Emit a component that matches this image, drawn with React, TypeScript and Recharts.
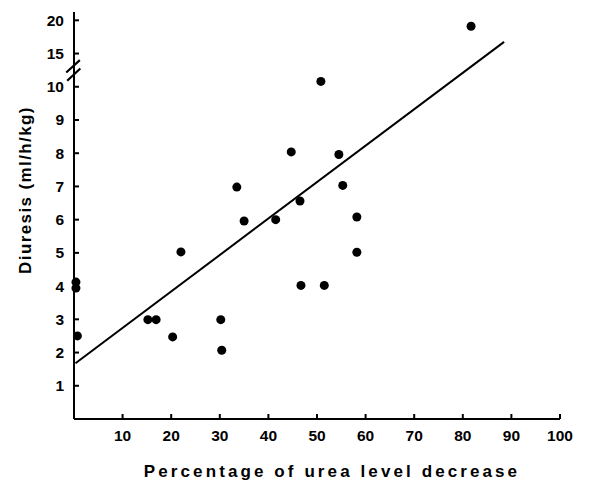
import { ScatterChart, Scatter, XAxis, YAxis, ReferenceLine } from "recharts";

// measured points: % urea decrease vs diuresis (ml/h/kg)
const urea = [0.4, 0.4, 0.7, 15.2, 16.9, 20.3, 22.0, 30.2, 30.4, 33.5, 35.0, 41.5, 44.7, 46.5, 46.7, 50.8, 51.5, 54.5, 55.3, 58.2, 58.2, 81.7];
const diuresis = [4.12, 3.94, 2.5, 2.99, 2.99, 2.47, 5.03, 2.99, 2.07, 6.98, 5.96, 6.0, 8.04, 6.56, 4.02, 10.8, 4.02, 7.96, 7.03, 6.08, 5.02, 19.1];

// regression line end points
const fitX = [0.3, 88.5];
const fitY = [1.68, 16.75];

const xTicks = [10, 20, 30, 40, 50, 60, 70, 80, 90, 100];
const yTicks = [1, 2, 3, 4, 5, 6, 7, 8, 9, 10, 15, 20];

// broken axis: above 10 the scale is compressed 5:1
const toAxis = (v: number) => (v <= 10 ? v : 10 + (v - 10) / 5);
const fromAxis = (t: number) => (t <= 10 ? t : 10 + (t - 10) * 5);

const points = urea.map((x, i) => ({ x, y: toAxis(diuresis[i]) }));
const fit = fitX.map((x, i) => ({ x, y: toAxis(fitY[i]) }));

const font = "'Liberation Sans', Arial, sans-serif";
const tickStyle = { fill: "#000", fontSize: 15.5, fontWeight: 700, fontFamily: font };

const Dot = (props: any) => <circle cx={props.cx} cy={props.cy} r={4.5} fill="#000" />;

export default function App() {
  return (
    <ScatterChart width={585} height={477} margin={{ top: 4, right: 33, bottom: 0, left: 0 }}>
      <XAxis
        type="number"
        dataKey="x"
        domain={[0, 100]}
        ticks={xTicks}
        height={66}
        stroke="#000"
        strokeWidth={2}
        tickSize={-5}
        tickMargin={16}
        tick={tickStyle}
        label={{
          content: () => (
            <text x={324} y={469} textAnchor="middle" fontFamily={font} fontWeight={700} fontSize={17} letterSpacing={3.1} fill="#000">
              Percentage of urea level decrease
            </text>
          ),
        }}
      />
      <YAxis
        type="number"
        dataKey="y"
        domain={[0, 12.25]}
        ticks={yTicks.map(toAxis)}
        tickFormatter={(t: number) => String(Math.round(fromAxis(t)))}
        width={66}
        stroke="#000"
        strokeWidth={2}
        tickSize={-5}
        tickMargin={15}
        tick={tickStyle}
        label={{
          content: () => (
            <text x={17} y={182} transform="rotate(-90 17 182)" textAnchor="middle" dominantBaseline="central" fontFamily={font} fontWeight={700} fontSize={17} letterSpacing={1.4} fill="#000">
              Diuresis  (ml/h/kg)
            </text>
          ),
        }}
      />
      <ReferenceLine segment={[{ x: -1.6, y: 10.43 }, { x: 1.2, y: 10.8 }]} stroke="#000" strokeWidth={2.2} ifOverflow="visible" />
      <ReferenceLine segment={[{ x: -1.4, y: 10.18 }, { x: 1.3, y: 10.55 }]} stroke="#000" strokeWidth={2.2} ifOverflow="visible" />
      <Scatter data={fit} line={{ stroke: "#000", strokeWidth: 2 }} shape={() => <g />} isAnimationActive={false} />
      <Scatter data={points} shape={Dot} isAnimationActive={false} />
    </ScatterChart>
  );
}
